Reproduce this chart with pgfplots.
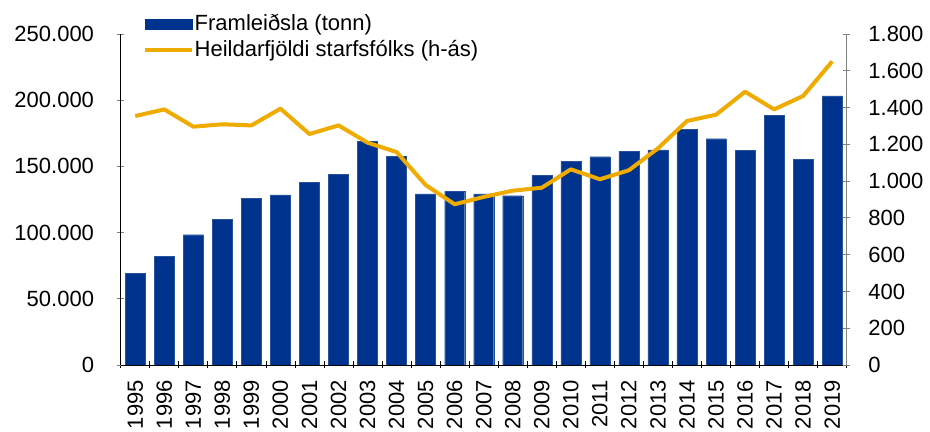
\documentclass[border=0pt]{standalone}
\usepackage{pgfplots}
\pgfplotsset{compat=1.18}
\usepackage{fontspec}
\setmainfont{Liberation Sans}
\definecolor{barblue}{RGB}{0,51,141}
\definecolor{linegold}{RGB}{240,171,0}
\definecolor{axgray}{RGB}{128,128,128}
\begin{document}
\fontsize{22}{26}\selectfont
\begin{tikzpicture}
\pgfplotsset{
  common/.style={
    scale only axis, width=726pt, height=331pt,
    xmin=-0.5, xmax=24.5,
    scaled y ticks=false,
    tick style={line width=0.8pt},
    major tick length=7pt,
    tick align=outside,
    ticklabel style={font=\fontsize{22}{26}\selectfont},
  }
}
\begin{axis}[common, name=main,
  ymin=0, ymax=250000,
  ytick={0,50000,100000,150000,200000,250000},
  yticklabels={0,50.000,100.000,150.000,200.000,250.000},
  axis x line=bottom, axis y line=left,
  axis line style={-, line width=0.8pt, black},
  xtick={-0.5,0.5,...,24.5},
  xticklabels={},
  xtick style={black, line width=0.8pt},
  extra x ticks={0,...,24},
  extra x tick labels={1995,1996,1997,1998,1999,2000,2001,2002,2003,2004,2005,2006,2007,2008,2009,2010,2011,2012,2013,2014,2015,2016,2017,2018,2019},
  extra x tick style={major tick length=0pt,
    xticklabel style={rotate=90, anchor=east, inner sep=0pt, xshift=-15pt}},
  yticklabel style={inner sep=0pt, xshift=-23pt},
  legend style={at={(axis description cs:0.03,1.064)}, anchor=north west,
    draw=none, fill=none, inner sep=0pt, row sep=5pt,
    font=\fontsize{22}{26}\selectfont,
    nodes={inner sep=1pt, anchor=west}},
  legend cell align=left,
]
\addplot[ybar, bar width=20pt, fill=barblue, draw=barblue!85!white, line width=0.3pt,
  legend image code/.code={\fill[barblue] (0pt,-5pt) rectangle (47pt,5pt);}]
coordinates {
(0,69300) (1,82300) (2,98400) (3,110000) (4,125900) (5,128400) (6,138000) (7,144000)
(8,169000) (9,157600) (10,129200) (11,131200) (12,129200) (13,127900) (14,143300)
(15,153600) (16,157300) (17,161400) (18,162400) (19,178200) (20,170900) (21,161900)
(22,188800) (23,155400) (24,203200)
};
\addlegendentry{Framleiðsla (tonn)}
\addlegendimage{linegold, line width=4pt, legend image code/.code={\draw[linegold, line width=4pt] (0pt,0pt) -- (47pt,0pt);}}
\addlegendentry{Heildarfjöldi starfsfólks (h-ás)}
\end{axis}
\begin{axis}[common,
  ymin=0, ymax=1800,
  ytick={0,200,400,600,800,1000,1200,1400,1600,1800},
  yticklabels={0,200,400,600,800,1.000,1.200,1.400,1.600,1.800},
  axis x line=none, axis y line=right,
  axis line style={-, line width=0.8pt, axgray},
  ytick style={axgray, line width=0.8pt},
  yticklabel style={inner sep=0pt, xshift=18pt},
]
\addplot[linegold, line width=4pt, line join=round, mark=none] coordinates {
(0,1354) (1,1390) (2,1296) (3,1309) (4,1303) (5,1394) (6,1256) (7,1303)
(8,1209) (9,1158) (10,979) (11,874) (12,914) (13,948) (14,964)
(15,1064) (16,1010) (17,1059) (18,1178) (19,1327) (20,1361) (21,1486)
(22,1390) (23,1463) (24,1651)
};
\end{axis}
\pgfresetboundingbox
\path ([shift={(-120.7pt,-67pt)}]main.south west) rectangle ([shift={(83.3pt,34pt)}]main.north east);
\end{tikzpicture}
\end{document}
